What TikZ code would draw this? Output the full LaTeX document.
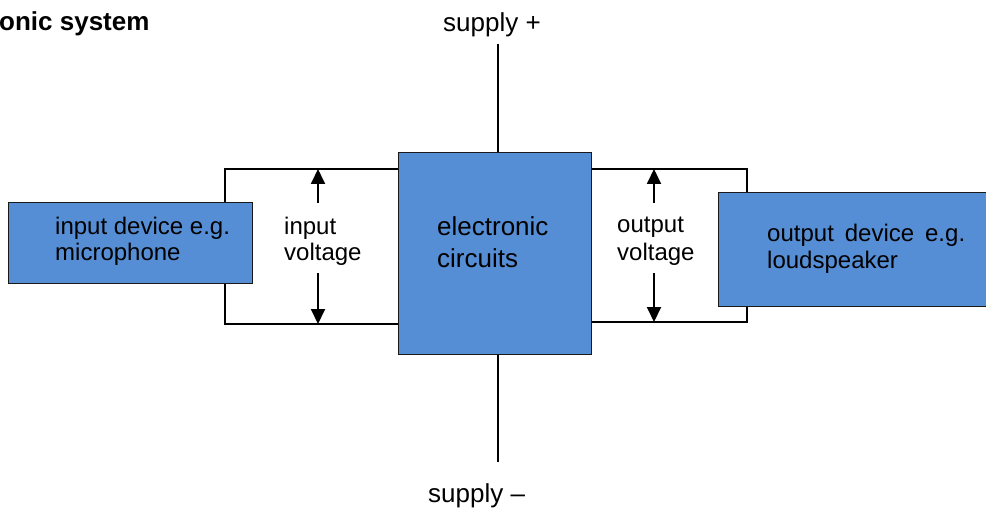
\documentclass[tikz,border=0pt]{standalone}
\usepackage{fontspec}
\setmainfont{Liberation Sans}
\usetikzlibrary{arrows.meta}
\definecolor{boxblue}{RGB}{85,142,213}
\begin{document}
\begin{tikzpicture}[x=1pt,y=-1pt,
  box/.style={draw=black!90, line width=1.4pt, fill=boxblue, inner sep=0pt},
  wire/.style={draw=black, line width=2pt},
  arr/.style={draw=black, line width=2pt, -{Triangle[width=14pt,length=15pt]}},
  lbl/.style={inner sep=0pt, anchor=base west, font=\fontsize{24}{28}\selectfont},
  big/.style={inner sep=0pt, anchor=base west, font=\fontsize{26}{30}\selectfont}]
\useasboundingbox (0,0) rectangle (986,508);
% loops behind the boxes
\coordinate (itl) at (225,169);
\coordinate (ibl) at (225,324);
\coordinate (otr) at (747,169);
\coordinate (obr) at (747,322);
\coordinate (sp) at (497.5,44);
\coordinate (sm) at (497.5,462);
% central box
\node[box, anchor=north west, minimum width=193pt, minimum height=202pt] (ec) at (398,152) {};
\draw[wire] (ec.west |- itl) -- (itl) -- (ibl) -- (ec.west |- ibl);
\draw[wire] (ec.east |- otr) -- (otr) -- (obr) -- (ec.east |- obr);
\draw[wire] (sp) -- (sp |- ec.north);
\draw[wire] (sm) -- (sm |- ec.south);
% redraw central box on top
\node[box, anchor=north west, minimum width=193pt, minimum height=202pt] (ec2) at (398,152) {};
% device boxes
\node[box, anchor=north west, minimum width=244pt, minimum height=81pt] (ind) at (8,202) {};
\node[box, anchor=north west, minimum width=272pt, minimum height=114pt] (outd) at (718,192) {};
% texts
\node[big, font=\bfseries\fontsize{26}{30}\selectfont] (title) at (-1,31) {onic system};
\node[big] (spt) at (443,32) {supply +};
\node[big] (smt) at (428,502) {supply –};
\node[big] (ec1) at (437,236) {electronic};
\node[big] (ec3) at (437,267) {circuits};
\node[lbl] (in1) at (55,234) {input device e.g.};
\node[lbl] (in2) at (55,260) {microphone};
\node[lbl] (iv1) at (284,234) {input};
\node[lbl] (iv2) at (284,260) {voltage};
\node[lbl] (ov1) at (617,233) {output};
\node[lbl] (ov2) at (617,260) {voltage};
\node[lbl] (od1) at (767,241) {\makebox[198pt][s]{output device e.g.}};
\node[lbl] (od2) at (767,268) {loudspeaker};
% voltage arrows
\coordinate (iua) at (318,203);
\coordinate (ida) at (318,273);
\coordinate (oua) at (654,203);
\coordinate (oda) at (654,273);
\draw[arr] (iua) -- (iua |- itl);
\draw[arr] (ida) -- (ida |- ibl);
\draw[arr] (oua) -- (oua |- otr);
\draw[arr] (oda) -- (oda |- obr);
\end{tikzpicture}
\end{document}
